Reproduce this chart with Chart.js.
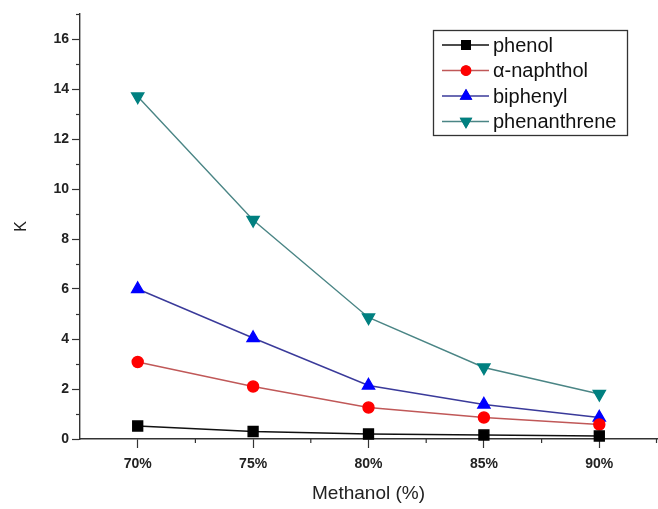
<!doctype html><html lang="en"><head>
<meta charset="UTF-8"><title>K vs Methanol</title>
<script src="https://cdn.jsdelivr.net/npm/chart.js"></script>
<style>
 body{margin:0;background:#fff}
 #wrap{width:658px;height:509px}
</style></head><body>
<div id="wrap"><canvas id="c" width="658" height="509"></canvas></div>
<script>
// ----- data -----
const methanol   = ['70%','75%','80%','85%','90%'];
const phenol     = [0.52, 0.30, 0.20, 0.16, 0.12];
const naphthol   = [3.08, 2.10, 1.26, 0.86, 0.58];
const biphenyl   = [6.00, 4.04, 2.14, 1.38, 0.86];
const phenanth   = [13.7, 8.76, 4.86, 2.86, 1.80];
const yTicks     = [0,2,4,6,8,10,12,14,16];

const FONT = 'Liberation Sans, Arial, sans-serif';

function ds(label, data, line, fill, style, rot, r){
  return {label, data, borderColor:line, backgroundColor:fill,
    pointBackgroundColor:fill, pointBorderColor:fill, pointStyle:style,
    pointRotation:rot, pointRadius:r, pointHoverRadius:r,
    borderWidth:1.4, tension:0, fill:false, clip:false};
}

// minor ticks + in-plot legend box
const extras = {
  id:'extras',
  afterDraw(chart){
    const c = chart.ctx, x = chart.scales.x, y = chart.scales.y;
    c.save();
    c.strokeStyle = '#333'; c.lineWidth = 1.2;
    // x minor ticks halfway between categories, and at the right end
    for(let i=0;i<methanol.length;i++){
      const xx = i+1<methanol.length
        ? (x.getPixelForTick(i) + x.getPixelForTick(i+1)) / 2
        : x.right - 0.5;
      c.beginPath(); c.moveTo(xx, y.bottom); c.lineTo(xx, y.bottom+4); c.stroke();
    }
    // y minor ticks at odd values
    for(let v=1; v<=17; v+=2){
      const py = Math.round(y.getPixelForValue(v))+0.5;
      c.beginPath(); c.moveTo(x.left, py); c.lineTo(x.left-4, py); c.stroke();
    }
    // legend
    const bx = 433, by = 30, bw = 194, bh = 105, rowH = 25.5;
    c.strokeStyle = '#333'; c.lineWidth = 1.3;
    c.strokeRect(bx+0.5, by+0.5, bw, bh);
    chart.data.datasets.forEach((d,i)=>{
      const cy = by + 15 + i*rowH;
      c.strokeStyle = d.borderColor; c.lineWidth = 1.4;
      c.beginPath(); c.moveTo(bx+9, cy); c.lineTo(bx+56, cy); c.stroke();
      Chart.helpers.drawPoint(c, {pointStyle:d.pointStyle, rotation:d.pointRotation,
        radius:d.pointRadius*0.85, borderWidth:1}, bx+33, cy);
      c.fillStyle = d.pointBackgroundColor; c.strokeStyle = d.pointBorderColor;
      c.fill(); c.stroke();
      c.fillStyle = '#111'; c.font = '20px '+FONT;
      c.textBaseline = 'middle'; c.textAlign = 'left';
      c.fillText(d.label, bx+60, cy+1);
    });
    c.restore();
  }
};

new Chart(document.getElementById('c'), {
  type:'line',
  data:{
    labels:methanol,
    datasets:[
      ds('phenol',       phenol,   '#111111', '#000000', 'rect',     0,   7),
      ds('\u03b1-naphthol', naphthol, '#c05858', '#ff0000', 'circle',   0,   5.5),
      ds('biphenyl',     biphenyl, '#3a3a9a', '#0000ff', 'triangle', 0,   7),
      ds('phenanthrene', phenanth, '#4a8585', '#008080', 'triangle', 180, 7)
    ]
  },
  options:{
    responsive:false, animation:false,
    layout:{autoPadding:false, padding:{top:14, right:1, left:0, bottom:0}},
    plugins:{legend:{display:false}, tooltip:{enabled:false}},
    scales:{
      x:{
        type:'category', offset:true,
        afterFit(s){ s.height = 70; s.paddingLeft = 0; s.paddingRight = 0; },
        border:{display:true, color:'#333', width:1.4},
        grid:{display:true, drawOnChartArea:false, drawTicks:true, tickLength:9, tickColor:'#333', tickWidth:1.2, offset:false},
        ticks:{color:'#222', font:{family:FONT, size:14, weight:'bold'}, padding:8, maxRotation:0},
        title:{display:true, text:'Methanol (%)', color:'#222', font:{family:FONT, size:19}, padding:{top:17}}
      },
      y:{
        min:0, max:17,
        afterFit(s){ s.width = 80; s.paddingTop = 0; s.paddingBottom = 0; },
        afterBuildTicks(s){ s.ticks = yTicks.map(v=>({value:v})); },
        border:{display:true, color:'#333', width:1.4},
        grid:{display:true, drawOnChartArea:false, drawTicks:true, tickLength:8, tickColor:'#333', tickWidth:1.2},
        ticks:{color:'#222', font:{family:FONT, size:14, weight:'bold'}, padding:3},
        title:{display:true, text:'K', color:'#222', font:{family:FONT, size:16}, padding:{bottom:0, top:12}}
      }
    }
  },
  plugins:[extras]
});
</script>
</body></html>
